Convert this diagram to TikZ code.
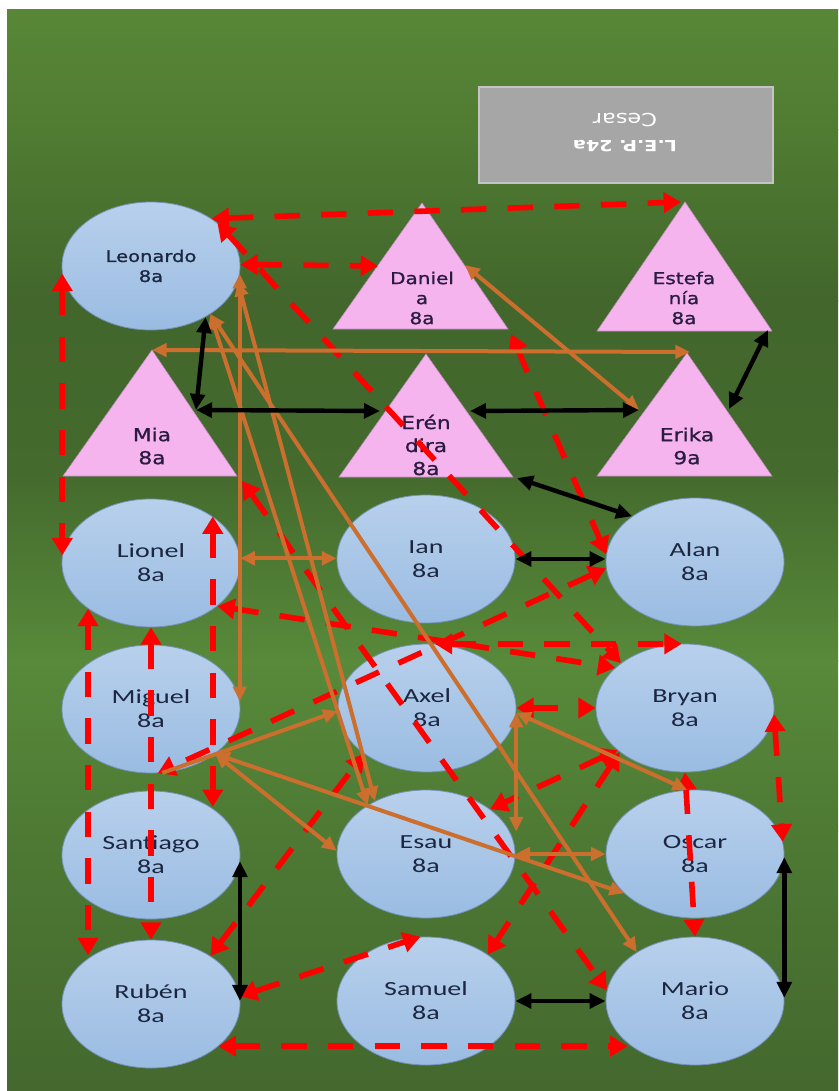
\documentclass[tikz,border=0pt]{standalone}
\usepackage{fontspec}
\usetikzlibrary{shapes.geometric,arrows.meta,calc}
\newfontfamily\calfont[FakeStretch=1.4]{Carlito}
\newfontfamily\verfont[FakeStretch=1.22,FakeBold=1]{DejaVu Sans}
\newfontfamily\boxfont[FakeStretch=1.25]{DejaVu Sans}

\definecolor{bgA}{RGB}{88,135,55}
\definecolor{bgB}{RGB}{80,124,50}
\definecolor{bgC}{RGB}{66,102,44}
\definecolor{bgD}{RGB}{68,106,45}
\definecolor{bgE}{RGB}{88,138,58}
\definecolor{bgF}{RGB}{78,122,52}
\definecolor{bgG}{RGB}{68,104,46}
\definecolor{elltop}{RGB}{184,208,236}
\definecolor{ellbot}{RGB}{154,188,226}
\definecolor{ellline}{RGB}{115,145,185}
\definecolor{pinkfill}{RGB}{246,180,238}
\definecolor{pinkline}{RGB}{190,140,190}
\definecolor{navytext}{RGB}{28,38,64}
\definecolor{purpletext}{RGB}{42,28,64}
\definecolor{boxgray}{RGB}{166,166,166}
\definecolor{boxline}{RGB}{196,196,196}
\definecolor{linkorange}{RGB}{204,110,46}
\definecolor{linkred}{RGB}{255,0,0}

\tikzset{
  pers/.style={ellipse, minimum width=133.5pt, minimum height=96pt, inner sep=0pt,
    draw=ellline, line width=0.6pt, top color=elltop, bottom color=ellbot,
    text=navytext, align=center, font=\calfont\fontsize{15}{18}\selectfont},
  tri/.style={fill=pinkfill, draw=pinkline, line width=0.4pt},
  trilabel/.style={align=center, text=purpletext, inner sep=0pt},
  bigtri/.style={font=\verfont\fontsize{13.4}{17.25}\selectfont},
  smalltri/.style={font=\verfont\fontsize{12.3}{15}\selectfont},
  boxline/.style={rotate=180, text=white, inner sep=0pt},
  redlink/.style={draw=linkred, line width=4.2pt, dash pattern=on 19pt off 16pt,
    {Triangle[length=13pt,width=15pt]}-{Triangle[length=13pt,width=15pt]}},
  orangelink/.style={draw=linkorange, line width=3pt,
    {Triangle[length=11pt,width=10pt]}-{Triangle[length=11pt,width=10pt]}},
  orangeto/.style={draw=linkorange, line width=3pt, -{Triangle[length=11pt,width=10pt]}},
  blacklink/.style={draw=black, line width=3.3pt,
    {Triangle[length=12pt,width=11pt]}-{Triangle[length=12pt,width=11pt]}},
}

\begin{document}
\begin{tikzpicture}[x=0.75pt,y=-0.75pt]
\useasboundingbox (0,0) rectangle (838,1091);
\fill[white] (0,0) rectangle (838,1091);

% green backdrop, in vertical bands
\fill[top color=bgA, bottom color=bgB] (7,10) rectangle (838,131);
\fill[top color=bgB, bottom color=bgC] (7,130) rectangle (838,301);
\fill[top color=bgC, bottom color=bgD] (7,300) rectangle (838,471);
\fill[top color=bgD, bottom color=bgE] (7,470) rectangle (838,661);
\fill[top color=bgE, bottom color=bgF] (7,660) rectangle (838,831);
\fill[top color=bgF, bottom color=bgG] (7,830) rectangle (838,1091);

% title box, its two lines turned upside down
\node[draw=boxline, line width=1pt, fill=boxgray, minimum width=220.5pt, minimum height=72pt]
  (lep) at (626,135) {};
\node[boxline, font=\boxfont\bfseries\fontsize{11.5}{14}\selectfont] (lepa) at (625,146) {L.E.P. 24a};
\node[boxline, font=\boxfont\fontsize{13.5}{16}\selectfont] (lepb) at (625,120) {Cesar};

% students drawn as ellipses
\node[pers, font=\verfont\fontsize{12}{15}\selectfont] (leo) at (151,266) {Leonardo\\8a};
\node[pers] (lio) at (151,563) {Lionel\\8a};
\node[pers] (mig) at (151,709) {Miguel\\8a};
\node[pers] (san) at (151,855) {Santiago\\8a};
\node[pers] (rub) at (151,1004) {Rubén\\8a};
\node[pers] (ian) at (426,559) {Ian\\8a};
\node[pers] (axe) at (427,708) {Axel\\8a};
\node[pers] (esa) at (426,854) {Esau\\8a};
\node[pers] (sam) at (426,1001) {Samuel\\8a};
\node[pers] (ala) at (695,562) {Alan\\8a};
\node[pers] (bry) at (685,708) {Bryan\\8a};
\node[pers] (osc) at (695,854) {Oscar\\8a};
\node[pers] (mar) at (695,1001) {Mario\\8a};

% students drawn as triangles
\coordinate (dan-apex) at (422,203);
\draw[tri] (dan-apex) -- (333,329) -- (508,329) -- cycle;
\node[trilabel, smalltri] (dan) at (422,298) {Daniel\\a\\8a};

\coordinate (est-apex) at (685,202);
\draw[tri] (est-apex) -- (597,331) -- (772,331) -- cycle;
\node[trilabel, smalltri] (est) at (684,298) {Estefa\\nía\\8a};

\coordinate (mia-apex) at (152,350);
\draw[tri] (mia-apex) -- (63,476) -- (237,476) -- cycle;
\node[trilabel, bigtri] (mia) at (152,446) {Mia\\8a};

\coordinate (ere-apex) at (426,354);
\draw[tri] (ere-apex) -- (339,477) -- (513,477) -- cycle;
\node[trilabel, bigtri] (ere) at (426,445) {Erén\\dira\\8a};

\coordinate (eri-apex) at (687,353);
\draw[tri] (eri-apex) -- (597,476) -- (772,476) -- cycle;
\node[trilabel, bigtri] (eri) at (687,446) {Erika\\9a};

% attachment points on the triangles
\coordinate (dan-w) at (378,266);
\coordinate (dan-e) at (465,265);
\coordinate (dan-se) at (511,334);
\coordinate (est-tip) at (681,202);
\coordinate (est-se) at (768,330);
\coordinate (mia-e) at (196,410);
\coordinate (mia-se) at (242,481);
\coordinate (ere-w) at (380,411);
\coordinate (ere-e) at (470,411);
\coordinate (ere-se) at (517,478);
\coordinate (eri-w) at (639,410);
\coordinate (eri-e) at (729,409);
\coordinate (eri-tip) at (690,352);

% red dashed links
\draw[redlink] (leo.38) -- (est-tip);
\draw[redlink] (leo.1) -- (dan-w);
\draw[redlink] (leo.33) -- (bry.145);
\draw[redlink] (dan-se) -- (ala.175);
\draw[redlink] (leo.185) -- (leo.185 |- lio.175);
\draw[redlink] (lio.216) -- (lio.216 |- rub.140);
\draw[redlink] (lio.270) -- (rub.90);
\draw[redlink] (lio.37) -- (lio.37 |- san.39);
\draw[redlink] (rub.-32) -- (rub.-32 -| mar.212);
\draw[redlink] (lio.-33) -- (bry.150);
\draw[redlink] (axe.83) -- (axe.83 -| bry.93);
\draw[redlink] (ala.184) -- (mig.-84);
\draw[redlink] (mia-se) -- (mar.173);
\draw[redlink] (rub.39) -- (axe.216);
\draw[redlink] (rub.5) -- (sam.95);
\draw[redlink] (bry.214) -- (sam.37);
\draw[redlink] (bry.212) -- (esa.35);
\draw[redlink] (axe.0) -- (bry.180);
\draw[redlink] (bry.270) -- (mar.90);
\draw[redlink] (bry.-4) -- (osc.8);

% orange links
\draw[orangelink] (mia-apex) -- (eri-tip);
\draw[orangelink] (dan-e) -- (eri-w);
\draw[orangelink] (leo.-5) -- (leo.-5 |- mig.5);
\draw[orangelink] (lio.3) -- (lio.3 -| ian.180);
\draw[orangelink] (leo.-10) -- (esa.134);
\draw[orangelink] (leo.-39) -- (esa.140);
\draw[orangelink] (leo.-39) -- (mar.140);
\draw[orangeto] (mig.-80) -- (axe.182);
\draw[orangelink] (mig.-35) -- (esa.178);
\draw[orangelink] (mig.-35) -- (osc.209);
\draw[orangelink] (axe.-3) -- (axe.-3 |- esa.15);
\draw[orangelink] (axe.-3) -- (osc.97);
\draw[orangelink] (esa.0) -- (osc.180);

% black links
\draw[blacklink] (leo.-43) -- (mia-e);
\draw[blacklink] (mia-e) -- (ere-w);
\draw[blacklink] (ere-e) -- (eri-w);
\draw[blacklink] (est-se) -- (eri-e);
\draw[blacklink] (ere-se) -- (ala.144);
\draw[blacklink] (ian.0) -- (ian.0 -| ala.180);
\draw[blacklink] (san.-4) -- (san.-4 |- rub.2);
\draw[blacklink] (sam.0) -- (sam.0 -| mar.180);
\draw[blacklink] (osc.-2) -- (osc.-2 |- mar.2);
\end{tikzpicture}
\end{document}
